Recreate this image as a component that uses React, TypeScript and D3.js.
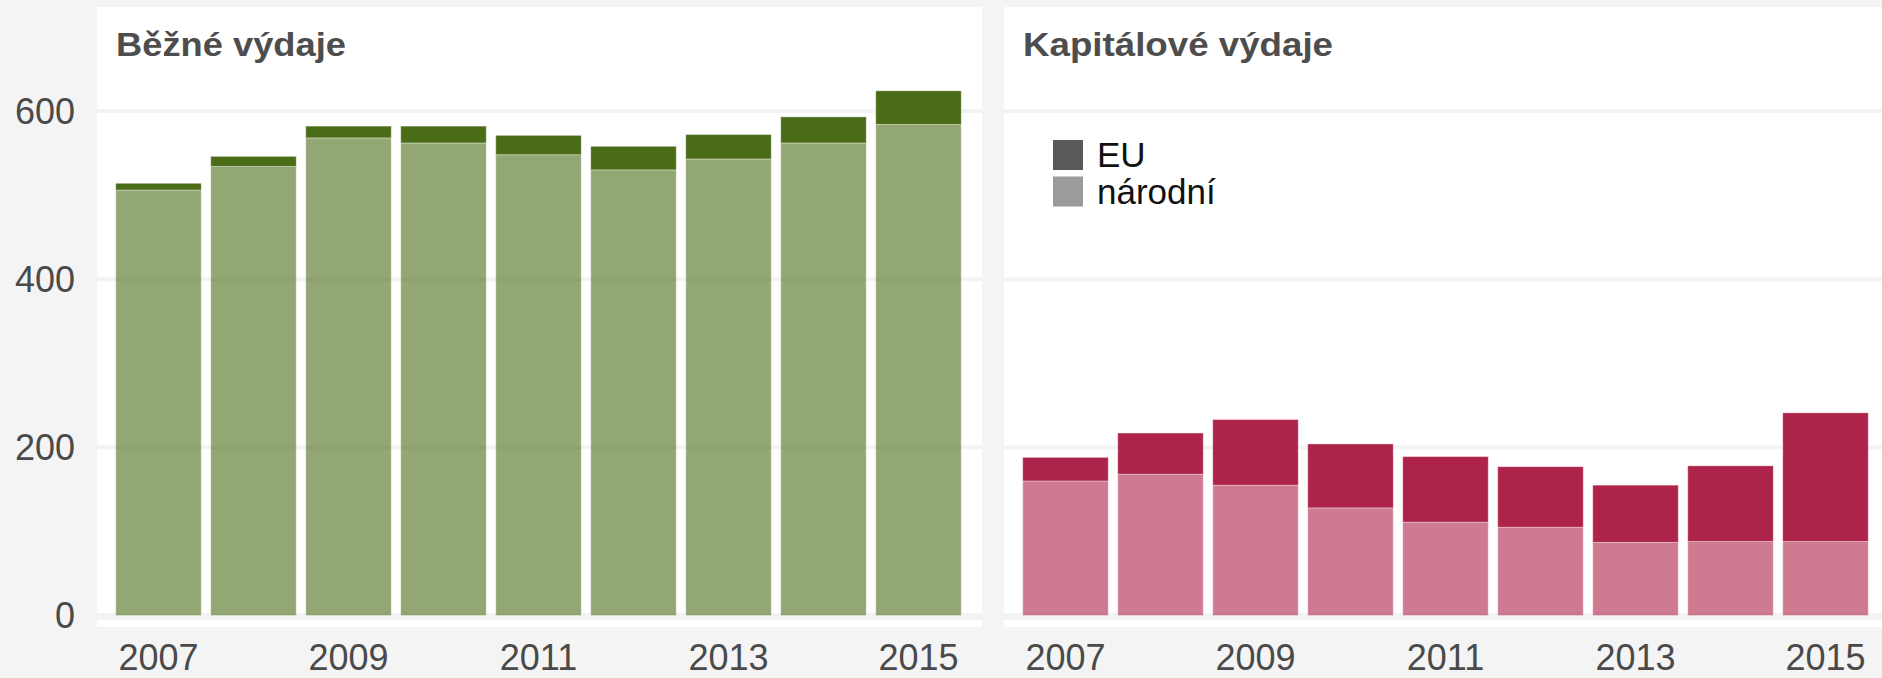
import React from "react";
import * as d3 from "d3";

const years = ["2007", "2008", "2009", "2010", "2011", "2012", "2013", "2014", "2015"];
const xTickLabels = ["2007", "2009", "2011", "2013", "2015"];
const yTicks = [0, 200, 400, 600];

const currentNational = [506, 534, 568, 562, 548, 530, 543, 562, 584];
const currentEU = [8, 12, 14, 20, 23, 28, 29, 31, 40];
const capitalNational = [160, 168, 155, 128, 111, 105, 87, 88, 88];
const capitalEU = [28, 49, 78, 76, 78, 72, 68, 90, 153];

const panelTitles = ["Běžné výdaje", "Kapitálové výdaje"];
const legendLabels = ["EU", "národní"];

const W = 1882;
const H = 678;
const FONT = "'Liberation Sans', Arial, Helvetica, sans-serif";
const panelWidth = 885;
const panelTop = 7;
const panelBottom = 627;

const y = d3.scaleLinear().domain([0, 600]).range([615.5, 111]);

type PanelProps = {
  left: number;
  title: string;
  titleLen: number;
  national: number[];
  eu: number[];
  color: string;
  showLegend: boolean;
};

function Panel({ left, title, titleLen, national, eu, color, showLegend }: PanelProps) {
  const x = d3
    .scaleBand<string>()
    .domain(years)
    .range([left + 14, left + 14 + 855])
    .paddingInner(0.1)
    .paddingOuter(0.05);
  const stack = years.map((yr, i) => ({ yr, n: national[i], e: eu[i] }));
  return (
    <g>
      <rect x={left} y={panelTop} width={panelWidth} height={panelBottom - panelTop} fill="#ffffff" />
      {yTicks.filter((t) => t !== 0).map((t) => (
        <line key={t} x1={left} x2={left + panelWidth} y1={y(t)} y2={y(t)} stroke="#f3f3f3" strokeWidth={4} />
      ))}
      <rect x={left} y={613} width={panelWidth} height={7} fill="#f3f3f3" />
      {stack.map((d) => (
        <g key={d.yr}>
          <rect
            x={x(d.yr)}
            y={y(d.n)}
            width={x.bandwidth()}
            height={y(0) - y(d.n)}
            fill={color}
            fillOpacity={0.6}
            stroke="#ffffff"
            strokeOpacity={0.35}
            strokeWidth={1}
          />
          <rect
            x={x(d.yr)}
            y={y(d.n + d.e)}
            width={x.bandwidth()}
            height={y(d.n) - y(d.n + d.e)}
            fill={color}
            stroke="#ffffff"
            strokeOpacity={0.35}
            strokeWidth={1}
          />
        </g>
      ))}
      <text
        x={left + 19}
        y={56}
        fontFamily={FONT}
        fontWeight="bold"
        fontSize={33}
        fill="#4d4d4d"
        textLength={titleLen}
        lengthAdjust="spacingAndGlyphs"
      >
        {title}
      </text>
      {xTickLabels.map((t) => (
        <text
          key={t}
          x={(x(t) as number) + x.bandwidth() / 2}
          y={670}
          textAnchor="middle"
          fontFamily={FONT}
          fontSize={36}
          fill="#4a4a4a"
        >
          {t}
        </text>
      ))}
      {showLegend &&
        legendLabels.map((lab, i) => (
          <g key={lab}>
            <rect x={left + 49} y={140 + i * 36.5} width={30} height={30} fill="#595959" fillOpacity={i === 0 ? 1 : 0.6} />
            <text x={left + 93} y={167 + i * 37} fontFamily={FONT} fontSize={35} fill="#111111">
              {lab}
            </text>
          </g>
        ))}
    </g>
  );
}

export default function App() {
  return (
    <svg
      width={W}
      height={H}
      viewBox={`0 0 ${W} ${H}`}
      style={{ position: "absolute", left: 0, top: 0, display: "block" }}
    >
      <rect x={0} y={0} width={W} height={H} fill="#f4f4f4" />
      {yTicks.map((t) => (
        <text
          key={t}
          x={75}
          y={y(t)}
          dy="0.36em"
          textAnchor="end"
          fontFamily={FONT}
          fontSize={36}
          fill="#4a4a4a"
        >
          {t}
        </text>
      ))}
      <Panel
        left={97}
        title={panelTitles[0]}
        titleLen={230}
        national={currentNational}
        eu={currentEU}
        color="#4b6c17"
        showLegend={false}
      />
      <Panel
        left={1004}
        title={panelTitles[1]}
        titleLen={310}
        national={capitalNational}
        eu={capitalEU}
        color="#ad2349"
        showLegend={true}
      />
    </svg>
  );
}
